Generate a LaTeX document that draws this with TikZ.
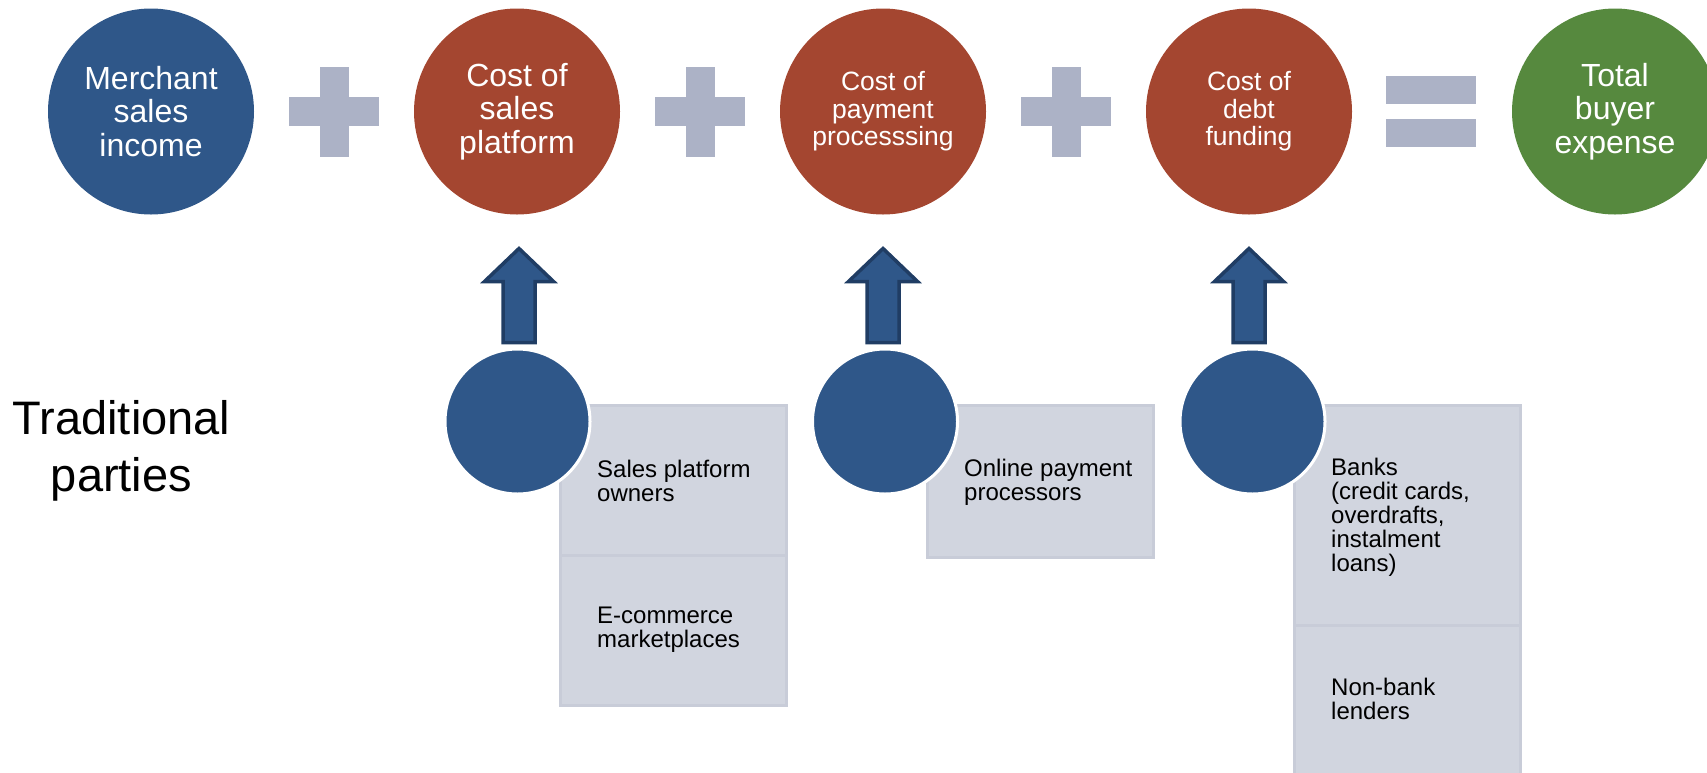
\documentclass[tikz,border=0pt]{standalone}
\usepackage{fontspec}
\setmainfont{Liberation Sans}
\definecolor{ibblue}{RGB}{47,87,137}
\definecolor{ibedge}{RGB}{32,61,100}
\definecolor{costred}{RGB}{164,70,48}
\definecolor{totalgreen}{RGB}{86,137,62}
\definecolor{opgrey}{RGB}{172,178,198}
\definecolor{boxfill}{RGB}{209,213,223}
\definecolor{boxedge}{RGB}{200,204,216}
\begin{document}
\begin{tikzpicture}[x=1pt,y=-1pt,
  bigcirc/.style={circle,minimum size=206pt,inner sep=0pt,text=white,align=center},
  bigtext/.style={font=\fontsize{32}{33.5}\selectfont},
  midtext/.style={font=\fontsize{26.5}{27.5}\selectfont},
  partycirc/.style={circle,minimum size=145pt,inner sep=0pt,fill=ibblue,draw=white,line width=3pt},
  partybox/.style={rectangle,anchor=north west,inner sep=0pt,fill=boxfill,draw=boxedge,line width=2.5pt},
  % base anchor of a multi-line node sits on its last line
  boxtext/.style={anchor=base west,align=left,inner sep=0pt,text=black,font=\fontsize{24}{24}\selectfont},
  plussign/.pic={
    \fill[opgrey] (-45,-14.5) rectangle (45,14.5);
    \fill[opgrey] (-14.5,-45) rectangle (14.5,45);
  },
  equalsign/.pic={
    \fill[opgrey] (-45,-35.5) rectangle (45,-7.5);
    \fill[opgrey] (-45,7.5) rectangle (45,35.5);
  },
  uparrow/.pic={
    \filldraw[fill=ibblue,draw=ibedge,line width=3.5pt,line join=miter]
      (0,-94) -- (34.5,-61) -- (16,-61) -- (16,0) -- (-16,0)
      -- (-16,-61) -- (-34.5,-61) -- cycle;
  }]
\useasboundingbox (0,0) rectangle (1707,772);
\clip (0,0) rectangle (1707,772);

% the sum across the top
\node[bigcirc,bigtext,fill=ibblue]     (income)   at (151,111.5)  {Merchant\\sales\\income};
\node[bigcirc,bigtext,fill=costred]    (platform) at (517,111.5)  {Cost of\\sales\\platform};
\node[bigcirc,midtext,fill=costred]    (payment)  at (883,111.5)  {Cost of\\payment\\processsing};
\node[bigcirc,midtext,fill=costred]    (debt)     at (1249,111.5) {Cost of\\debt\\funding};
\node[bigcirc,bigtext,fill=totalgreen] (total)    at (1615,111.5) {Total\\buyer\\expense};

\pic at (334,111.5)  {plussign};
\pic at (700,111.5)  {plussign};
\pic at (1066,111.5) {plussign};
\pic at (1431,111.5) {equalsign};

% row label
\node[anchor=base,align=center,inner sep=0pt,font=\fontsize{47}{57}\selectfont]
  (label) at (121.5,491) {Traditional\\parties};

% parties behind each cost
\node[partybox,minimum width=226pt,minimum height=150pt] (boxA1) at (559,404) {};
\node[partybox,minimum width=226pt,minimum height=150pt] (boxA2) at (559,554) {};
\node[partybox,minimum width=226pt,minimum height=152pt] (boxB1) at (926,404) {};
\node[partybox,minimum width=226pt,minimum height=220pt] (boxC1) at (1293,404) {};
\node[partybox,minimum width=226pt,minimum height=160pt] (boxC2) at (1293,624) {};

\node[boxtext] (txtA1) at (597,501)  {Sales platform\\owners};
\node[boxtext] (txtA2) at (597,647)  {E-commerce\\marketplaces};
\node[boxtext] (txtB1) at (964,500)  {Online payment\\processors};
\node[boxtext] (txtC1) at (1331,571) {Banks\\(credit cards,\\overdrafts,\\instalment\\loans)};
\node[boxtext] (txtC2) at (1331,719) {Non-bank\\lenders};

\node[partycirc] (partyA) at (517.5,421.5) {};
\node[partycirc] (partyB) at (885,421.5)   {};
\node[partycirc] (partyC) at (1252.5,421.5) {};

\pic at ([xshift=1.5pt,yshift=5pt]partyA.north) {uparrow};
\pic at ([xshift=-2pt,yshift=5pt]partyB.north)  {uparrow};
\pic at ([xshift=-3.5pt,yshift=5pt]partyC.north) {uparrow};
\end{tikzpicture}
\end{document}
